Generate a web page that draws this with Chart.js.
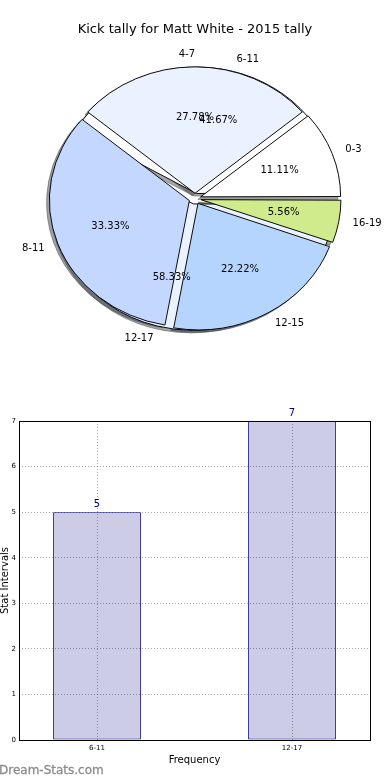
<!DOCTYPE html>
<html>
<head>
<meta charset="utf-8">
<title>Kick tally for Matt White - 2015 tally</title>
<script src="https://cdn.jsdelivr.net/npm/chart.js@4.4.1/dist/chart.umd.min.js"></script>
<style>
  html, body { margin: 0; padding: 0; background: #fff; }
  #page { position: relative; width: 390px; height: 780px; overflow: hidden; font-family: "DejaVu Sans", sans-serif; }
  .layer { position: absolute; left: 0; width: 390px; height: 390px; }
  #pieWrap { top: 0; }
  #barWrap { top: 390px; }
  .stack { position: absolute; left: 0; top: 0; }
  #mark { position: absolute; left: -1px; top: 763px; font-size: 12px; color: #8c8c8c; -webkit-text-stroke: 0.3px #8c8c8c; }
</style>
</head>
<body>
<div id="page">
  <div class="layer" id="pieWrap">
    <canvas id="pieBack" class="stack" width="390" height="390"></canvas>
    <canvas id="pieFront" class="stack" width="390" height="390"></canvas>
  </div>
  <div class="layer" id="barWrap">
    <canvas id="barChart" width="390" height="390"></canvas>
  </div>
  <div id="mark">Dream-Stats.com</div>
</div>
<script>
// data
const kickRanges = ['0-3', '4-7', '8-11', '12-15', '16-19'];
const kickCounts = [2, 5, 6, 4, 1];
const groupRanges = ['6-11', '12-17'];
const groupCounts = [5, 7];
const sliceColors = ['#ffffff', '#eaf2ff', '#c4d8ff', '#b5d5ff', '#d0eb8b'];
const yTicks = [0, 1, 2, 3, 4, 5, 6, 7];

Chart.defaults.font.family = '"DejaVu Sans", sans-serif';

// pie geometry (matplotlib look: exploded wedges, squashed axes, drop shadow)
const R = 140;
const EXPLODE = 6;
const SQUASH = 0.903;
const SHADOW = 2.8;

let backChart = null;
let frontChart = null;

function shade(hex) {
  const n = parseInt(hex.slice(1), 16);
  const r = Math.round(((n >> 16) & 255) * 0.3);
  const g = Math.round(((n >> 8) & 255) * 0.3);
  const b = Math.round((n & 255) * 0.3);
  return 'rgba(' + r + ',' + g + ',' + b + ',0.5)';
}

function drawShadows(ctx, c) {
  c.getDatasetMeta(0).data.forEach((arc) => {
    const mid = (arc.startAngle + arc.endAngle) / 2;
    const x = arc.x + Math.cos(mid) * EXPLODE - SHADOW;
    const y = arc.y + Math.sin(mid) * EXPLODE + SHADOW;
    const col = shade(arc.options.backgroundColor);
    ctx.beginPath();
    ctx.moveTo(x, y);
    ctx.arc(x, y, R, arc.startAngle, arc.endAngle);
    ctx.closePath();
    ctx.fillStyle = col;
    ctx.fill();
    ctx.strokeStyle = col;
    ctx.lineWidth = 1;
    ctx.stroke();
  });
}

function drawPieLabels(ctx, c) {
  const meta = c.getDatasetMeta(0);
  const values = c.data.datasets[0].data;
  const total = values.reduce((s, v) => s + v, 0);
  ctx.save();
  ctx.font = '10px "DejaVu Sans"';
  ctx.fillStyle = '#000';
  ctx.textBaseline = 'middle';
  meta.data.forEach((arc, i) => {
    const mid = (arc.startAngle + arc.endAngle) / 2;
    const cos = Math.cos(mid), sin = Math.sin(mid);
    const px = (d) => arc.x + cos * (EXPLODE + d);
    const py = (d) => arc.y + sin * (EXPLODE + d) * SQUASH;
    ctx.textAlign = cos > 0.01 ? 'left' : 'right';
    ctx.fillText(c.data.labels[i], px(R * 1.1), py(R * 1.1));
    ctx.textAlign = 'center';
    ctx.fillText((values[i] / total * 100).toFixed(2) + '%', px(R * 0.6), py(R * 0.6));
  });
  ctx.restore();
}

// Chart.js grows offset arcs a bit, pull the radius back so every wedge is R
const explodeFix = {
  id: 'explodeFix',
  afterDatasetUpdate(chart, args) {
    args.meta.data.forEach((arc) => {
      const fix = 1 - Math.sin(Math.min(Math.PI, arc.circumference));
      arc.outerRadius = R - EXPLODE * fix;
    });
  }
};

const pieShape = {
  id: 'pieShape',
  beforeDatasetsDraw(chart, args, opts) {
    const ctx = chart.ctx;
    const a = chart.getDatasetMeta(0).data[0];
    ctx.save();
    ctx.translate(a.x, a.y);
    ctx.scale(1, SQUASH);
    ctx.translate(-a.x, -a.y);
    if (opts.shadows) {
      drawShadows(ctx, chart);
      if (frontChart) drawShadows(ctx, frontChart);
    }
  },
  afterDatasetsDraw(chart) {
    chart.ctx.restore();
  }
};

const pieText = {
  id: 'pieText',
  afterDraw(chart) {
    if (backChart) drawPieLabels(chart.ctx, backChart);
    drawPieLabels(chart.ctx, chart);
  }
};

function pieConfig(labels, values, titleColor, shadows, extra) {
  // matplotlib goes counter-clockwise from 3 o'clock, Chart.js clockwise
  return {
    type: 'pie',
    data: {
      labels: [...labels].reverse(),
      datasets: [{
        data: [...values].reverse(),
        backgroundColor: sliceColors.slice(0, values.length).reverse(),
        borderColor: '#000',
        borderWidth: 1,
        borderJoinStyle: 'miter',
        offset: EXPLODE * 4
      }]
    },
    options: {
      responsive: false,
      animation: false,
      events: [],
      rotation: 90,
      radius: R,
      layout: { padding: { bottom: 40.2 } },
      plugins: {
        legend: { display: false },
        tooltip: { enabled: false },
        title: {
          display: true,
          text: 'Kick tally for Matt White - 2015 tally',
          color: titleColor,
          font: { size: 13, weight: 'normal' },
          padding: { top: 22, bottom: 10 }
        },
        pieShape: { shadows: shadows }
      }
    },
    plugins: [explodeFix, pieShape].concat(extra)
  };
}

backChart = new Chart(document.getElementById('pieBack'),
  pieConfig(groupRanges, groupCounts, 'rgba(0,0,0,0)', true, []));
frontChart = new Chart(document.getElementById('pieFront'),
  pieConfig(kickRanges, kickCounts, '#000', false, [pieText]));
backChart.draw();

// bar chart
const frame = {
  id: 'frame',
  afterDraw(chart) {
    const a = chart.chartArea;
    const ctx = chart.ctx;
    ctx.save();
    ctx.strokeStyle = '#000';
    ctx.lineWidth = 1;
    ctx.strokeRect(a.left + 0.5, a.top + 0.5, a.right - a.left, a.bottom - a.top);
    ctx.restore();
  }
};

const barValues = {
  id: 'barValues',
  afterDatasetsDraw(chart) {
    const ctx = chart.ctx;
    ctx.save();
    ctx.font = '10px "DejaVu Sans"';
    ctx.fillStyle = '#000080';
    ctx.textAlign = 'center';
    ctx.textBaseline = 'alphabetic';
    chart.getDatasetMeta(0).data.forEach((bar, i) => {
      ctx.fillText(String(groupCounts[i]), bar.x, bar.y - 5);
    });
    ctx.restore();
  }
};

new Chart(document.getElementById('barChart'), {
  type: 'bar',
  data: {
    datasets: [{
      data: groupCounts.map((v, i) => ({ x: i, y: v })),
      backgroundColor: '#ccccE6',
      borderColor: '#000080',
      borderWidth: 1,
      borderSkipped: false,
      barPercentage: 0.45,
      categoryPercentage: 1
    }]
  },
  options: {
    responsive: false,
    animation: false,
    events: [],
    layout: { padding: { top: 31, right: 20, left: 0, bottom: 0 } },
    plugins: {
      legend: { display: false },
      tooltip: { enabled: false }
    },
    scales: {
      x: {
        type: 'linear',
        min: -0.4,
        max: 1.4,
        offset: false,
        afterBuildTicks: (s) => { s.ticks = groupRanges.map((_, i) => ({ value: i })); },
        afterFit: (s) => { s.height = 40; },
        ticks: {
          callback: (v) => groupRanges[v],
          color: '#000',
          font: { size: 7 },
          padding: 4,
          maxRotation: 0
        },
        grid: { color: 'rgba(0,0,0,0.35)', lineWidth: 1, drawTicks: false, offset: false, z: 1 },
        border: { display: false, dash: [1, 2] },
        title: {
          display: true,
          text: 'Frequency',
          color: '#000',
          font: { size: 10, lineHeight: 1 },
          padding: { top: 0, bottom: 15 }
        }
      },
      y: {
        min: yTicks[0],
        max: yTicks[yTicks.length - 1],
        afterBuildTicks: (s) => { s.ticks = yTicks.map((v) => ({ value: v })); },
        afterFit: (s) => { s.width = 19; },
        ticks: { color: '#000', font: { size: 7 }, padding: 3 },
        grid: { color: 'rgba(0,0,0,0.35)', lineWidth: 1, drawTicks: false, z: 1 },
        border: { display: false, dash: [1, 2] },
        title: {
          display: true,
          text: 'Stat Intervals',
          color: '#000',
          font: { size: 10, lineHeight: 1 },
          padding: { top: 0, bottom: 0 }
        }
      }
    }
  },
  plugins: [barValues, frame]
});
</script>
</body>
</html>
